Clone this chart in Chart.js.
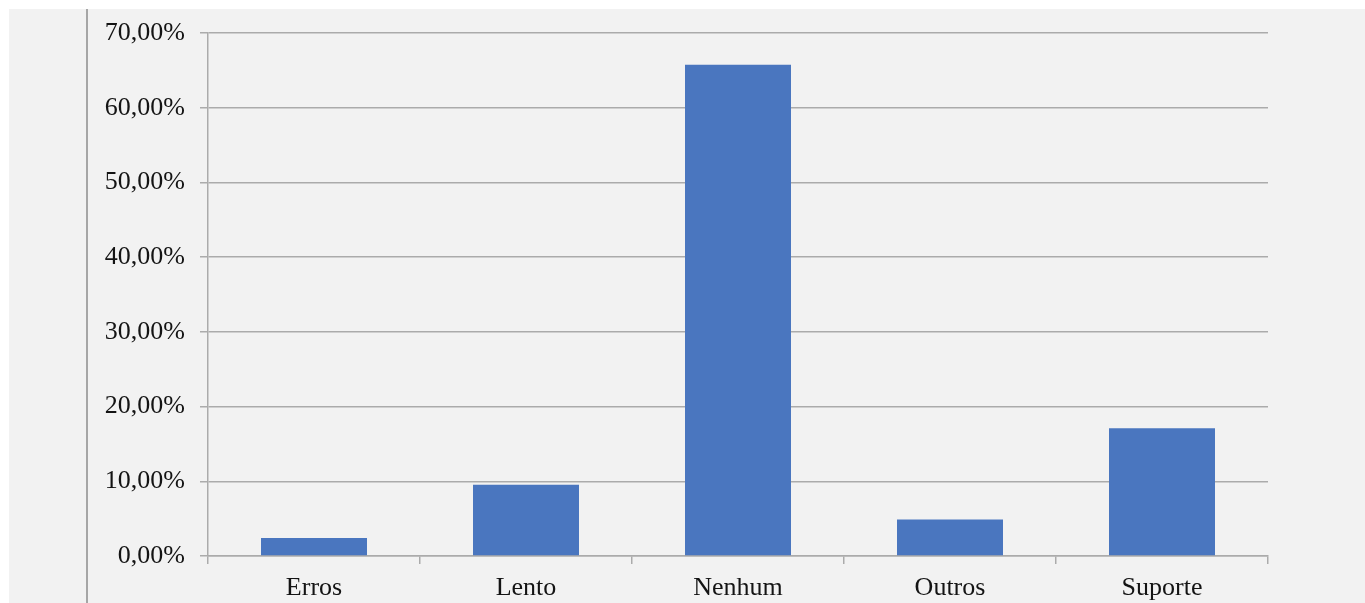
<!DOCTYPE html>
<html>
<head>
<meta charset="utf-8">
<title>Motivos</title>
<script src="https://cdn.jsdelivr.net/npm/chart.js@4/dist/chart.umd.min.js"></script>
<style>
  html, body { margin: 0; padding: 0; background: #ffffff; }
  canvas { display: block; }
</style>
</head>
<body>
<canvas id="chart" width="1365" height="603"></canvas>
<script>
// Categorias e percentuais de respostas
const categories = ['Erros', 'Lento', 'Nenhum', 'Outros', 'Suporte'];
const percentages = [2.4, 9.55, 65.75, 4.9, 17.1];
const yTicks = [0, 10, 20, 30, 40, 50, 60, 70];

const fontFamily = "'Liberation Serif', 'Times New Roman', serif";
const gridColor = '#ababab';

// Fundo cinza com margem branca e a linha vertical à esquerda
const backdrop = {
  id: 'backdrop',
  beforeDraw(chart) {
    const { ctx, width, height } = chart;
    ctx.save();
    ctx.fillStyle = '#ffffff';
    ctx.fillRect(0, 0, width, height);
    ctx.fillStyle = '#f2f2f2';
    ctx.fillRect(9, 9, width - 9, height - 9);
    ctx.strokeStyle = '#8c8c8c';
    ctx.lineWidth = 1.5;
    ctx.beginPath();
    ctx.moveTo(87, 9);
    ctx.lineTo(87, height);
    ctx.stroke();
    ctx.restore();
  }
};

new Chart(document.getElementById('chart'), {
  type: 'bar',
  data: {
    labels: categories,
    datasets: [{
      data: percentages,
      backgroundColor: '#4a76bf',
      borderWidth: 0,
      categoryPercentage: 1.0,
      barPercentage: 0.5
    }]
  },
  options: {
    responsive: false,
    animation: false,
    events: [],
    layout: { padding: { left: 0, top: 33, right: 97, bottom: 0 } },
    plugins: {
      legend: { display: false },
      tooltip: { enabled: false }
    },
    scales: {
      x: {
        offset: true,
        grid: {
          display: true,
          drawOnChartArea: false,
          drawTicks: true,
          tickLength: 8,
          color: gridColor,
          lineWidth: 1.5,
          offset: true
        },
        border: { display: true, color: gridColor, width: 1.5 },
        ticks: {
          color: '#141414',
          padding: 9,
          maxRotation: 0,
          font: { family: fontFamily, size: 26 }
        },
        afterFit(scale) { scale.height = 47; }
      },
      y: {
        min: 0,
        max: 70,
        afterBuildTicks(scale) { scale.ticks = yTicks.map(v => ({ value: v })); },
        grid: {
          color: gridColor,
          lineWidth: 1.5,
          drawTicks: true,
          tickLength: 8
        },
        border: { display: true, color: gridColor, width: 1.5 },
        ticks: {
          color: '#141414',
          padding: 15,
          font: { family: fontFamily, size: 26 },
          callback: v => v.toFixed(2).replace('.', ',') + '%'
        },
        afterFit(scale) { scale.width = 208; }
      }
    }
  },
  plugins: [backdrop]
});
</script>
</body>
</html>
